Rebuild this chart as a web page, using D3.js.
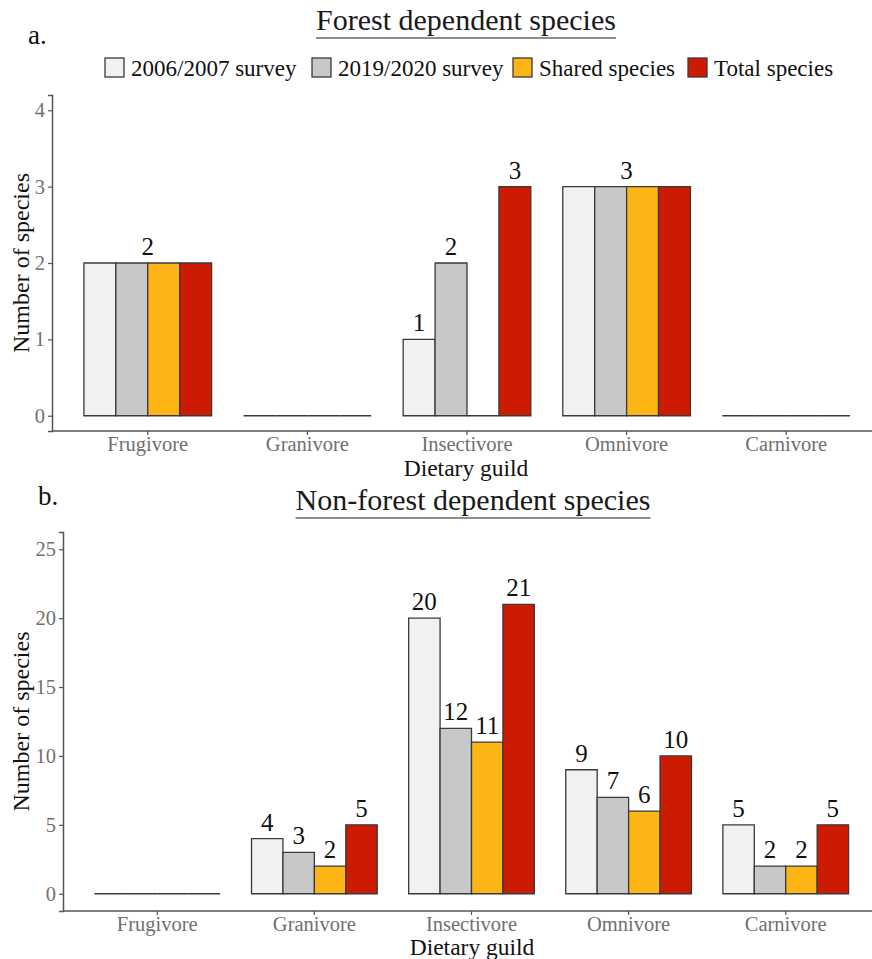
<!DOCTYPE html>
<html><head><meta charset="utf-8">
<script src="https://cdn.jsdelivr.net/npm/d3@7"></script>
<style>body{margin:0;background:#fff}svg{display:block}</style>
</head><body>
<script>
const guilds = ["Frugivore","Granivore","Insectivore","Omnivore","Carnivore"];
const seriesNames = ["2006/2007 survey","2019/2020 survey","Shared species","Total species"];
const seriesColors = ["#f1f1f1","#c8c8c8","#fcb514","#cc1b00"];
// Panel a: forest dependent species
const forest2006   = [2,0,1,3,0];
const forest2019   = [2,0,2,3,0];
const forestShared = [2,0,0,3,0];
const forestTotal  = [2,0,3,3,0];
// Panel b: non-forest dependent species
const nonforest2006   = [0,4,20,9,5];
const nonforest2019   = [0,3,12,7,2];
const nonforestShared = [0,2,11,6,2];
const nonforestTotal  = [0,5,21,10,5];
const yTicksA = [0,1,2,3,4];
const yTicksB = [0,5,10,15,20,25];

const W = 872, H = 959;
const FONT = "'Liberation Serif','Times New Roman',serif";
const svg = d3.select("body").append("svg").attr("width",W).attr("height",H)
  .style("font-family",FONT);

function panel(o){
  const g = svg.append("g");
  const series = o.series;
  const x = d3.scaleBand().domain(guilds).range([o.x0,o.x1]).paddingInner(0.2).paddingOuter(0.2);
  const xs = d3.scaleBand().domain(d3.range(series.length)).range([0,x.bandwidth()]);
  const y = d3.scaleLinear().domain(o.ydom).range([o.yb,o.yt]);
  // letter
  g.append("text").attr("x",o.letterX).attr("y",o.letterY).attr("font-size",27).attr("fill","#111").text(o.letter);
  // title
  const t = g.append("text").attr("x",o.titleX).attr("y",o.titleY).attr("text-anchor","middle")
    .attr("font-size",30).attr("fill","#1a1a1a").text(o.title);
  const bb = t.node().getBBox();
  g.append("line").attr("x1",bb.x).attr("x2",bb.x+bb.width).attr("y1",o.titleY+8).attr("y2",o.titleY+8)
    .attr("stroke","#666").attr("stroke-width",1.5);
  // bars
  guilds.forEach((gu,i)=>{
    series.forEach((s,j)=>{
      const x0 = x(gu)+xs(j), w = xs.bandwidth();
      const y0 = y(0), y1 = y(s[i]);
      g.append("path").attr("d",`M${x0},${y0}V${y1}H${x0+w}V${y0}Z`)
        .attr("fill",seriesColors[j]).attr("stroke","#3a3a3a").attr("stroke-width",1.3);
    });
  });
  // labels
  guilds.forEach((gu,i)=>{
    const vals = series.map(s=>s[i]);
    const allSame = vals.every(v=>v===vals[0]);
    if (allSame) {
      if (vals[0]!==0) g.append("text").attr("x",x(gu)+x.bandwidth()/2).attr("y",y(vals[0])-8)
        .attr("text-anchor","middle").attr("font-size",25).attr("fill","#111").text(vals[0]);
    } else {
      vals.forEach((v,j)=>{
        if (v===0) return;
        g.append("text").attr("x",x(gu)+xs(j)+xs.bandwidth()/2).attr("y",y(v)-8)
          .attr("text-anchor","middle").attr("font-size",25).attr("fill","#111").text(v);
      });
    }
  });
  // axes
  const ax = g.append("g").attr("transform",`translate(0,${o.yb})`).call(d3.axisBottom(x).tickSize(4).tickPadding(1));
  const ay = g.append("g").attr("transform",`translate(${o.x0},0)`)
    .call(d3.axisLeft(y).tickValues(o.yticks).tickFormat(d3.format("d")).tickSize(4).tickPadding(3));
  [ax,ay].forEach(a=>{
    a.select(".domain").attr("stroke","#555").attr("stroke-width",1.5);
    a.selectAll(".tick line").attr("stroke","#555").attr("stroke-width",1.2);
    a.selectAll(".tick text").attr("fill","#707070").attr("font-size",20.5).attr("font-family",FONT);
  });
  ax.select(".domain").attr("d",`M${o.x0},0H${o.xEnd}`);
  // axis titles
  g.append("text").attr("x",o.xTitleX).attr("y",o.xTitleY).attr("text-anchor","middle")
    .attr("font-size",23.5).attr("fill","#111").text("Dietary guild");
  g.append("text").attr("transform",`translate(${o.yTitleX},${(o.yt+o.yb)/2}) rotate(-90)`)
    .attr("text-anchor","middle").attr("font-size",24).attr("fill","#111").text("Number of species");
  return g;
}

panel({series:[forest2006,forest2019,forestShared,forestTotal], ydom:[-0.2,4.2], yticks:yTicksA,
  x0:52, x1:882, xEnd:872, yb:431, yt:95, letter:"a.", letterX:28, letterY:44,
  title:"Forest dependent species", titleX:466, titleY:30, xTitleX:466, xTitleY:476, yTitleX:29});
panel({series:[nonforest2006,nonforest2019,nonforestShared,nonforestTotal], ydom:[-1.25,26.25], yticks:yTicksB,
  x0:63, x1:880, xEnd:872, yb:911, yt:532, letter:"b.", letterX:38, letterY:505,
  title:"Non-forest dependent species", titleX:473, titleY:510, xTitleX:472, xTitleY:955, yTitleX:29});

// legend
const legend = svg.append("g");
const legX = [105,312,513,688];
seriesNames.forEach((n,j)=>{
  legend.append("rect").attr("x",legX[j]).attr("y",58).attr("width",19).attr("height",19)
    .attr("fill",seriesColors[j]).attr("stroke","#3a3a3a").attr("stroke-width",1.3);
  legend.append("text").attr("x",legX[j]+26).attr("y",76).attr("font-size",23).attr("fill","#111").text(n);
});
</script>
</body></html>
